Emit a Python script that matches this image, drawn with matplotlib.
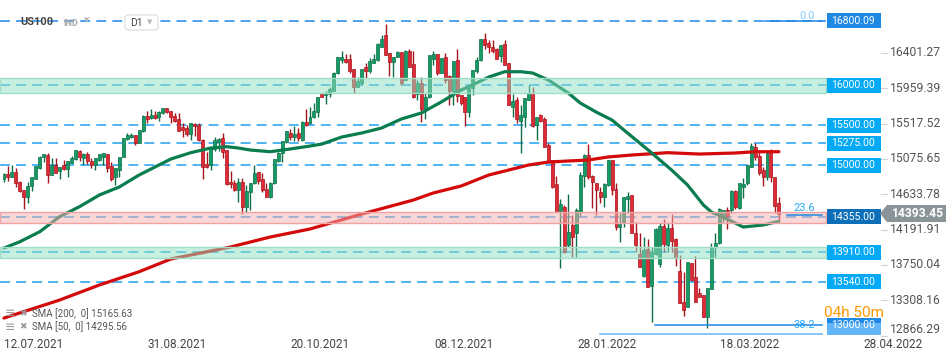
import matplotlib
matplotlib.use("Agg")
import matplotlib.pyplot as plt
import numpy as np
from matplotlib.patches import Rectangle, Polygon, FancyBboxPatch
from matplotlib.transforms import blended_transform_factory
from matplotlib.colors import to_rgba

plt.rcParams['font.family'] = ['Roboto', 'DejaVu Sans']

# daily candles
opens = [14829, 14887, 14854, 14912, 14787, 14687, 14596, 14737, 14829, 14962,
         15096, 15125, 14879, 14996, 14921, 14996, 14954, 15029, 15071, 15171,
         15083, 15137, 15054, 14996, 15062, 15104, 15137, 14987, 14846, 14937,
         15104, 15321, 15346, 15375, 15279, 15421, 15612, 15592, 15625, 15596,
         15646, 15708, 15679, 15612, 15571, 15471, 15458, 15387, 15508, 15500,
         15312, 15012, 15000, 15196, 15291, 15337, 15187, 14791, 14771, 14687,
         14791, 14479, 14666, 14771, 14916, 14821, 14696, 14596, 14771, 15054,
         15146, 15291, 15404, 15346, 15404, 15312, 15542, 15529, 15596, 15666,
         15887, 15871, 15887, 15929, 16146, 16312, 16321, 16321, 16196, 15979,
         16029, 16221, 16179, 16279, 16312, 16479, 16625, 16404, 16292, 16354,
         16412, 16062, 16421, 16262, 15887, 16021, 15704, 15846, 16329, 16387,
         16154, 16346, 16112, 15929, 16312, 15875, 15846, 15667, 15958, 16179,
         16312, 16571, 16521, 16471, 16446, 16362, 16512, 16271, 15729, 15812,
         15554, 15604, 15812, 15904, 15500, 15621, 15571, 15250, 15062, 14762,
         14429, 14479, 13999, 14250, 14146, 14417, 14862, 15125, 14862, 14771,
         14667, 14596, 14750, 15062, 14696, 14229, 14292, 14579, 14625, 14154,
         13887, 13612, 13946, 13487, 13887, 13762, 14237, 14000, 14208, 14071,
         13675, 13283, 13229, 13771, 13604, 13404, 13375, 13104, 13446, 13979,
         14021, 14346, 14437, 14437, 14679, 14458, 14729, 14771, 14971, 15221,
         15112, 14937, 14854, 15166, 14854, 14521]
highs = [14904, 14992, 14996, 14958, 14796, 14687, 14787, 14846, 14990, 15110,
         15135, 15146, 15083, 15083, 14975, 15062, 15050, 15112, 15190, 15187,
         15146, 15167, 15083, 15083, 15140, 15150, 15137, 15037, 14958, 15096,
         15340, 15396, 15396, 15375, 15440, 15620, 15675, 15700, 15675, 15675,
         15710, 15708, 15679, 15654, 15654, 15521, 15500, 15529, 15529, 15521,
         15320, 15167, 15229, 15354, 15337, 15396, 15190, 14925, 14812, 14833,
         14833, 14750, 14771, 14999, 14916, 14896, 14779, 14791, 15080, 15167,
         15300, 15430, 15446, 15487, 15458, 15550, 15700, 15721, 15771, 15846,
         15890, 15929, 15979, 16160, 16350, 16429, 16387, 16387, 16196, 16104,
         16196, 16271, 16333, 16387, 16520, 16625, 16762, 16404, 16354, 16421,
         16412, 16437, 16446, 16421, 16062, 16104, 15896, 16375, 16421, 16387,
         16340, 16396, 16125, 16296, 16446, 15875, 15846, 15958, 16187, 16346,
         16580, 16646, 16562, 16562, 16462, 16496, 16562, 16271, 15887, 15846,
         15750, 15833, 16000, 15979, 15604, 15637, 15596, 15279, 15062, 14862,
         14571, 14500, 14637, 14375, 14458, 14917, 15137, 15262, 14875, 14779,
         14729, 14771, 15062, 15062, 14771, 14396, 14604, 14667, 14625, 14292,
         14154, 14104, 14071, 13979, 14208, 14271, 14321, 14271, 14387, 14083,
         13875, 13667, 13792, 13771, 13862, 13458, 13375, 13458, 14021, 14146,
         14460, 14437, 14471, 14687, 14687, 14771, 14833, 14999, 15271, 15271,
         15187, 14971, 15187, 15196, 14854, 14604]
lows = [14792, 14800, 14846, 14721, 14660, 14454, 14529, 14679, 14820, 14950,
        15042, 14779, 14870, 14900, 14821, 14937, 14854, 15020, 15060, 15054,
        15004, 15012, 14962, 14937, 15050, 14996, 14917, 14800, 14746, 14854,
        15100, 15312, 15340, 15254, 15270, 15410, 15521, 15579, 15579, 15554,
        15640, 15654, 15529, 15537, 15429, 15354, 15362, 15312, 15362, 15300,
        14821, 14958, 14937, 15179, 15179, 15087, 14750, 14708, 14679, 14541,
        14387, 14416, 14437, 14762, 14762, 14666, 14596, 14590, 14760, 15041,
        15041, 15280, 15312, 15304, 15304, 15300, 15490, 15512, 15583, 15604,
        15850, 15762, 15854, 15920, 16140, 16279, 16271, 16146, 15904, 15979,
        15999, 16083, 16146, 16271, 16305, 16479, 16371, 16112, 16104, 16354,
        15996, 16062, 16229, 15833, 15812, 15541, 15571, 15840, 16254, 16125,
        16146, 16029, 15746, 15746, 15791, 15750, 15487, 15604, 15875, 16146,
        16300, 16446, 16396, 16396, 16321, 16292, 16254, 15746, 15604, 15521,
        15154, 15479, 15812, 15479, 15312, 15541, 15229, 15021, 14708, 14417,
        13708, 13904, 13979, 13854, 13846, 14362, 14729, 14821, 14458, 14375,
        14521, 14479, 14737, 14625, 14187, 14042, 14229, 14396, 14146, 13917,
        13729, 13604, 13479, 13042, 13875, 13729, 13917, 13917, 13917, 13737,
        13271, 13112, 13221, 13550, 13292, 13354, 13104, 12958, 13446, 13854,
        14010, 14292, 14196, 14404, 14446, 14446, 14583, 14750, 14971, 15062,
        14875, 14737, 14812, 14792, 14404, 14312]
closes = [14887, 14854, 14912, 14771, 14671, 14596, 14737, 14846, 14987, 15104,
          15133, 14879, 14996, 14904, 14971, 14954, 15046, 15083, 15183, 15096,
          15137, 15046, 15004, 15083, 15137, 15150, 14962, 14829, 14958, 15096,
          15333, 15375, 15375, 15279, 15433, 15612, 15579, 15625, 15592, 15662,
          15708, 15666, 15604, 15554, 15429, 15437, 15387, 15521, 15487, 15312,
          14979, 14979, 15221, 15312, 15329, 15167, 14758, 14758, 14687, 14791,
          14479, 14675, 14771, 14896, 14804, 14687, 14596, 14779, 15071, 15146,
          15300, 15425, 15346, 15387, 15333, 15542, 15504, 15604, 15679, 15846,
          15854, 15904, 15946, 16154, 16346, 16346, 16287, 16179, 15979, 16050,
          16196, 16179, 16296, 16321, 16512, 16571, 16379, 16292, 16354, 16412,
          16029, 16421, 16229, 15854, 16021, 15704, 15854, 16371, 16387, 16146,
          16333, 16062, 15929, 16296, 15862, 15771, 15667, 15958, 16187, 16312,
          16571, 16504, 16471, 16421, 16321, 16496, 16254, 15746, 15800, 15579,
          15625, 15833, 15904, 15487, 15604, 15554, 15229, 15042, 14721, 14417,
          14512, 13917, 14167, 14104, 14437, 14875, 15125, 14854, 14792, 14687,
          14596, 14762, 15062, 14687, 14229, 14271, 14596, 14612, 14154, 14000,
          13729, 13937, 13479, 13917, 14196, 14237, 14012, 14208, 14054, 13833,
          13271, 13187, 13792, 13562, 13292, 13354, 13104, 13458, 13971, 14029,
          14446, 14437, 14362, 14679, 14471, 14771, 14762, 14999, 15237, 15096,
          14904, 14854, 15154, 14854, 14487, 14393]

# moving averages, sampled along the drawn lines (bar index -> value)
sma200_idx = [0, 14, 24, 34, 42, 57, 67, 77, 90, 103, 108, 115, 122, 127, 132,
              137, 142, 147, 152, 158, 167, 175, 184, 189, 195]
sma200_val = [13087, 13312, 13500, 13666, 13825, 13975, 14100, 14200, 14387, 14562,
              14650, 14737, 14875, 14937, 15000, 15037, 15050, 15062, 15100, 15125,
              15154, 15137, 15150, 15166, 15166]
sma50_idx = [0, 4, 9, 14, 19, 24, 29, 34, 39, 42, 47, 52, 56, 59, 62, 67, 72, 77, 80,
             85, 90, 95, 100, 105, 110, 115, 117, 122, 126, 130, 133, 137, 142, 145,
             149, 153, 156, 163, 168, 172, 176, 178, 183, 186, 191, 195]
sma50_val = [13962, 14041, 14166, 14354, 14479, 14625, 14725, 14875, 15000, 15075,
             15154, 15212, 15229, 15212, 15187, 15166, 15200, 15237, 15262, 15350,
             15400, 15462, 15575, 15650, 15787, 15937, 15979, 16100, 16166, 16166,
             16150, 16062, 15900, 15775, 15662, 15562, 15437, 15150, 14937, 14750,
             14500, 14412, 14300, 14225, 14250, 14296]

# horizontal levels and zones
dashed_levels = [16800.09, 16000.00, 15500.00, 15275.00, 15000.00, 14355.00, 13910.00, 13540.00]
dashed_colors = ['#1e88e5'] + ['#1ea0ef'] * 7
label_levels = [16800.09, 16000.00, 15500.00, 15275.00, 15000.00, 14355.00, 13910.00, 13540.00, 13000.00]
label_colors = ['#1e88e5', '#03a9f4', '#03a9f4', '#03a9f4', '#03a9f4', '#0d6fb8', '#03a9f4', '#03a9f4', '#1e88e5']
zone_lo = [15905, 14272, 13837]
zone_hi = [16082, 14418, 13978]
zone_fill = ['#91e1c3', '#f7b0b0', '#91e1c3']
zone_edge = ['#9edec6', '#efa3a3', '#9edec6']
fib_prices = [16800.09, 14370, 13000, 12890]
fib_names = ['0.0', '23.6', '38.2', '']
fib_start = [765, 787, 655, 600]

axis_ticks = [16401.27, 15959.39, 15517.52, 15075.65, 14633.78, 14191.91, 13750.04, 13308.16, 12866.29]
date_labels = ['12.07.2021', '31.08.2021', '20.10.2021', '08.12.2021', '28.01.2022', '18.03.2022', '28.04.2022']
date_pos = [7.5, 43.5, 79.5, 115.8, 151.7, 187.7, 223.7]
last_price = 14393.45
legend_rows = ['SMA [200,  0] 15165.63', 'SMA [50,  0] 14295.56']

# --- figure: one data axes + one pixel axes for the chrome ---
fig = plt.figure(figsize=(9.5, 3.6), dpi=100)
ax = fig.add_axes([0, 0, 1, 1])
ax.set_xlim(-4 / 3.974, 946 / 3.974)
ax.set_ylim(12562.5, 17062.5)
ax.axis('off')
ov = fig.add_axes([0, 0, 1, 1], facecolor='none')
ov.set_xlim(0, 950)
ov.set_ylim(360, 0)
ov.axis('off')
tr = blended_transform_factory(ov.transData, ax.transData)   # x in pixels, y in price
trd = blended_transform_factory(ax.transData, ov.transData)  # x in bars, y in pixels
PX = 12.5  # price units per pixel

# dashed levels
for lv, col in zip(dashed_levels, dashed_colors):
    ax.plot([0, 826], [lv, lv], transform=tr, color=col, lw=1.1,
            dashes=(6.5, 4), zorder=1)

# candles
o = np.array(opens, float); h = np.array(highs, float)
l = np.array(lows, float); c = np.array(closes, float)
idx = np.arange(len(o))
up = c >= o
body_col = np.where(up, '#159b64', '#de2b36')
edge_col = np.where(up, '#0b6e46', '#a8141e')
ax.vlines(idx, l, h, colors=edge_col, lw=1, zorder=2)
ax.bar(idx, np.maximum(np.abs(c - o), 12), bottom=np.minimum(o, c), width=0.75,
       color=body_col, edgecolor=edge_col, lw=0.5, zorder=3)

# moving averages
ax.plot(sma200_idx, sma200_val, color='#d40a0a', lw=2.3, zorder=4, solid_capstyle='round')
ax.plot(sma50_idx, sma50_val, color='#0a7d4f', lw=2.3, zorder=4, solid_capstyle='round')

# zones on top, semi transparent
for lo, hi, fc, ec in zip(zone_lo, zone_hi, zone_fill, zone_edge):
    ax.add_patch(Rectangle((0, lo), 826, hi - lo, transform=tr,
                           fc=to_rgba(fc, 0.5), ec=ec, lw=1, zorder=5))

# fibo lines
for fp, name, xs in zip(fib_prices, fib_names, fib_start):
    col = '#1e88e5' if name else '#64b5f6'
    ax.plot([xs, 822], [fp, fp], transform=tr, color=col, lw=1.1, zorder=6)
    if name:
        dy = {'0.0': 5, '23.6': 7, '38.2': 0}[name]
        ax.text(815, fp + dy * PX, name, transform=tr, ha='right', va='center',
                fontsize=8, color='#29a9f5', alpha=0.6 if name == '0.0' else 1, zorder=6)

# countdown, partly under the 13000 box
ax.text(824, 13000 + 12 * PX, '04h 50m', transform=tr, ha='left', va='center',
        fontsize=11, color='#ff9800', zorder=6)

# level labels
for lv, col in zip(label_levels, label_colors):
    ax.add_patch(Rectangle((827, lv - 7.5 * PX), 54, 15 * PX, transform=tr,
                           fc=col, ec='none', zorder=7))
    ax.text(831, lv, f'{lv:.2f}', transform=tr, ha='left', va='center',
            fontsize=7.5, color='white', zorder=8)
ax.add_patch(Rectangle((827, 12890 - 1 * PX), 54, 12 * PX, transform=tr,
                       fc='#64b5f6', ec='none', zorder=7))

# right axis
for i, t in enumerate(axis_ticks):
    ax.plot([881, 887], [t, t], transform=tr, color='#d0d0d0', lw=0.8)
    va = 'bottom' if i == len(axis_ticks) - 1 else 'center'
    ax.text(890, t, f'{t:.2f}', transform=tr, ha='left', va=va,
            fontsize=8.7, color='#555555')

# last price tag
tag = [(880, last_price), (887, last_price + 8.5 * PX), (946, last_price + 8.5 * PX),
       (946, last_price - 8.5 * PX), (887, last_price - 8.5 * PX)]
ax.add_patch(Polygon(tag, closed=True, transform=tr, fc='#8a9499', ec='none', zorder=7))
ax.text(891, last_price, f'{last_price:.2f}', transform=tr, ha='left', va='center',
        fontsize=8.7, color='white', fontweight='bold', zorder=8)

# dates
for p, lab in zip(date_pos, date_labels):
    ax.text(p, 344, lab, transform=trd, ha='center', va='center',
            fontsize=8.5, color='#444444')

# header
ov.text(20, 22, 'US100', ha='left', va='center', fontsize=8, fontweight='bold', color='#444444')
ov.text(63, 23, 'IND', ha='left', va='center', fontsize=6.5, fontweight='bold', color='#a8a8a8')
ov.text(84, 21, '\u25bc', ha='left', va='center', fontsize=5, color='#b8b8b8')
ov.add_patch(FancyBboxPatch((125, 15), 33, 15, boxstyle='round,pad=0,rounding_size=3',
                            fc='white', ec='#dcdcdc', lw=0.8, zorder=5))
ov.text(130, 23, 'D1', ha='left', va='center', fontsize=7.5, color='#444444', zorder=6)
ov.text(147, 23, '\u25bc', ha='left', va='center', fontsize=5, color='#b8b8b8', zorder=6)

# SMA legend
for k, row in enumerate(legend_rows):
    y = 314 + 13 * k
    ov.text(5, y, '\u2261', ha='left', va='center', fontsize=9, color='#9a9a9a', zorder=6)
    ov.text(19, y, '\u2716', ha='left', va='center', fontsize=6.5, color='#9a9a9a',
            family='DejaVu Sans', zorder=6)
    ov.text(32, y, row, ha='left', va='center', fontsize=7, color='#555555', zorder=6)

fig.savefig('out.png', dpi=100, facecolor='white')
